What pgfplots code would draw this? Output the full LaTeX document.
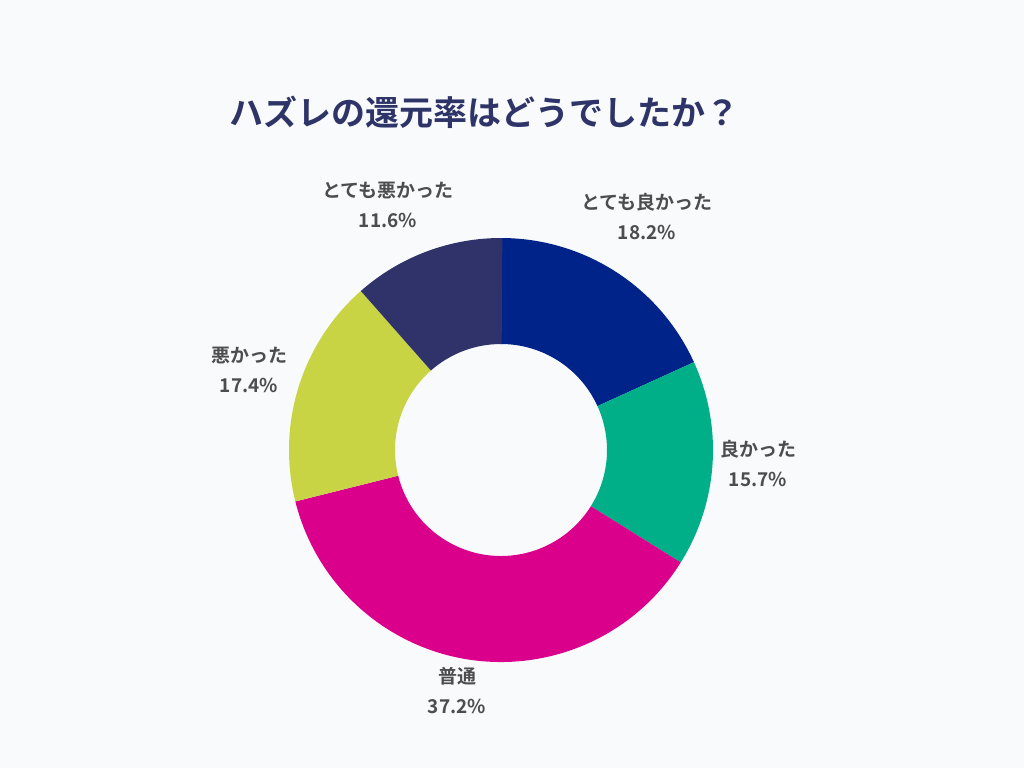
\documentclass[border=0pt]{standalone}
\usepackage{pgfplots}
\pgfplotsset{compat=1.18}
\usepackage{fontspec}
\newfontfamily\cjk{Noto Sans CJK JP}[BoldFont={Noto Sans CJK JP Bold}]
\definecolor{bgc}{HTML}{F8FAFC}
\definecolor{titlec}{HTML}{2E3468}
\definecolor{labc}{HTML}{4D4D4D}
\definecolor{c1}{HTML}{00238A}
\definecolor{c2}{HTML}{00AF87}
\definecolor{c3}{HTML}{DA008B}
\definecolor{c4}{HTML}{C8D444}
\definecolor{c5}{HTML}{2F3369}

% donut geometry in pixels
\def\cx{501}\def\cy{450}\def\Ro{212}\def\Ri{106}
\gdef\cum{0}
% #1 value (%), #2 colour, #3 label, #4,#5 label position
\newcommand\slice[5]{%
  \pgfmathsetmacro\aS{90-3.6*\cum}%
  \pgfmathsetmacro\aE{90-3.6*(\cum+#1)}%
  \pgfmathsetmacro\newcum{\cum+#1}%
  \xdef\cum{\newcum}%
  \edef\tmp{\noexpand\fill[#2] ([shift={(\aS:\Ro pt)}]axis cs:\cx,\cy)
     arc[start angle=\aS, end angle=\aE, radius=\Ro pt]
     -- ([shift={(\aE:\Ri pt)}]axis cs:\cx,\cy)
     arc[start angle=\aE, end angle=\aS, radius=\Ri pt] -- cycle;}%
  \tmp
  \node[align=center, text=labc, font=\cjk\bfseries\fontsize{19}{30}\selectfont]
    at (axis cs:#4,#5) {#3\\#1\%};%
}

\begin{document}
\begin{tikzpicture}
\begin{axis}[
    x=1pt, y=1pt,
    scale only axis,
    xmin=0, xmax=1024, ymin=0, ymax=768,
    y dir=reverse,
    hide axis,
    clip=false,
]
\fill[bgc] (axis cs:0,0) rectangle (axis cs:1024,768);
\slice{18.2}{c1}{とても良かった}{647}{217}
\slice{15.7}{c2}{良かった}{758}{464}
\slice{37.2}{c3}{普通}{457}{691}
\slice{17.4}{c4}{悪かった}{249}{370}
\slice{11.6}{c5}{とても悪かった}{388}{205}
\node[text=titlec, font=\cjk\bfseries\fontsize{34}{38}\selectfont]
  at (axis cs:484,112) {ハズレの還元率はどうでしたか？};
\end{axis}
\end{tikzpicture}
\end{document}
